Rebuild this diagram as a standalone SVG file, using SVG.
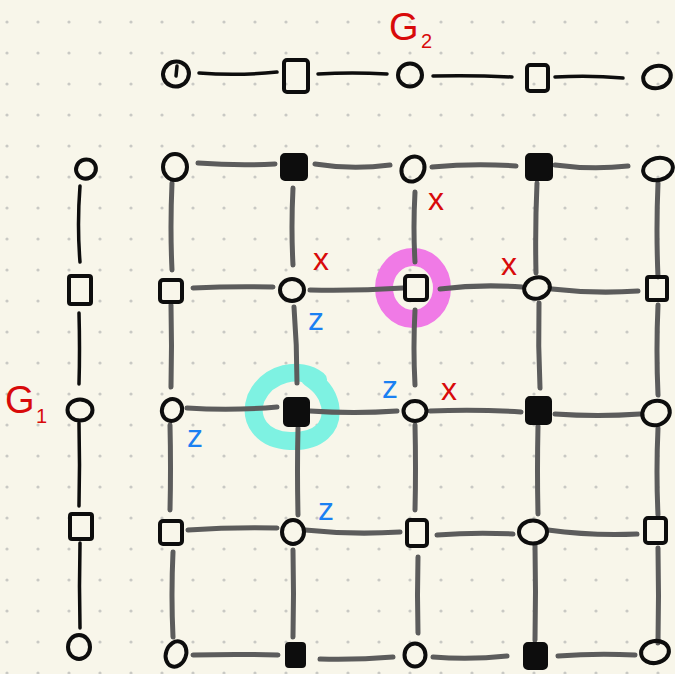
<svg xmlns="http://www.w3.org/2000/svg" width="675" height="674" viewBox="0 0 675 674">
<defs>
<pattern id="dots" x="0" y="0" width="31" height="31" patternUnits="userSpaceOnUse">
<circle cx="7" cy="22" r="1.6" fill="#c9c9c4"/>
</pattern>
</defs>
<style>
.c{fill:none;stroke:#0d0d0d;stroke-width:4}
.s{fill:none;stroke:#0d0d0d;stroke-width:4;stroke-linejoin:round}
.f{fill:#0d0d0d;stroke:#0d0d0d;stroke-width:4;stroke-linejoin:round}
.e{fill:none;stroke:#5c5c5c;stroke-width:5;stroke-linecap:round}
.b{fill:none;stroke:#0d0d0d;stroke-width:3.5;stroke-linecap:round}
.rx{fill:#d80a0a;font-family:"Liberation Sans",Arial,sans-serif;font-size:32px}
.bz{fill:#1a80f2;font-family:"Liberation Sans",Arial,sans-serif;font-size:32px}
.lbl{fill:#d80a0a;font-family:"Liberation Sans",Arial,sans-serif}
</style>
<rect width="675" height="674" fill="#f8f6ea"/>
<rect width="675" height="674" fill="url(#dots)"/>

<g id="highlights">
<ellipse cx="413" cy="288" rx="29" ry="31" fill="none" stroke="#f07ae6" stroke-width="18"/>
<path d="M318 380 C300 366 268 372 256 398 C248 420 262 440 290 441 C318 442 334 428 330 405 C327 392 320 385 310 378" fill="none" stroke="#7ef2e2" stroke-width="18" stroke-linecap="round"/>
</g>

<g id="connectors">
<!-- G2 chain -->
<path class="b" d="M199 73 Q238 76 277 72"/>
<path class="b" d="M318 74 Q352 72 387 74"/>
<path class="b" d="M433 76 Q472 75 512 77"/>
<path class="b" d="M555 77 Q590 75 623 78"/>
<!-- G1 chain -->
<path class="b" d="M80 186 Q77 225 80 262"/>
<path class="b" d="M79 313 Q80 350 79 384"/>
<path class="b" d="M79 423 Q80 465 79 506"/>
<path class="b" d="M80 543 Q79 586 80 628"/>
<!-- grid horizontals -->
<path class="e" d="M198 163 Q238 166 275 164"/>
<path class="e" d="M315 164 Q352 170 390 165"/>
<path class="e" d="M432 167 Q475 163 516 166"/>
<path class="e" d="M555 165 Q592 170 628 166"/>
<path class="e" d="M193 288 Q233 286 273 287"/>
<path class="e" d="M310 290 Q356 291 403 288"/>
<path class="e" d="M440 289 Q480 284 522 287"/>
<path class="e" d="M552 289 Q595 294 638 291"/>
<path class="e" d="M187 408 Q232 411 277 407"/>
<path class="e" d="M310 411 Q354 414 397 411"/>
<path class="e" d="M430 411 Q476 409 521 412"/>
<path class="e" d="M555 414 Q598 417 640 414"/>
<path class="e" d="M188 530 Q232 527 277 528"/>
<path class="e" d="M305 530 Q352 535 400 532"/>
<path class="e" d="M437 535 Q475 532 513 534"/>
<path class="e" d="M548 530 Q592 536 637 534"/>
<path class="e" d="M193 655 Q235 654 278 655"/>
<path class="e" d="M320 659 Q356 660 393 657"/>
<path class="e" d="M433 657 Q470 660 507 656"/>
<path class="e" d="M558 656 Q596 653 635 655"/>
<!-- grid verticals -->
<path class="e" d="M172 183 Q170 228 172 270"/>
<path class="e" d="M171 305 Q172 346 171 387"/>
<path class="e" d="M170 425 Q171 468 170 510"/>
<path class="e" d="M173 552 Q171 595 173 637"/>
<path class="e" d="M293 188 Q291 228 293 265"/>
<path class="e" d="M294 307 Q297 345 297 383"/>
<path class="e" d="M298 428 Q297 470 298 515"/>
<path class="e" d="M293 550 Q294 594 293 637"/>
<path class="e" d="M415 192 Q413 228 415 262"/>
<path class="e" d="M415 310 Q413 348 415 385"/>
<path class="e" d="M415 425 Q416 468 415 510"/>
<path class="e" d="M418 557 Q417 595 418 633"/>
<path class="e" d="M537 183 Q535 228 536 273"/>
<path class="e" d="M539 303 Q538 346 540 388"/>
<path class="e" d="M538 426 Q537 470 538 514"/>
<path class="e" d="M535 545 Q536 592 535 640"/>
<path class="e" d="M658 183 Q656 230 658 277"/>
<path class="e" d="M658 305 Q656 350 658 395"/>
<path class="e" d="M658 428 Q656 472 658 515"/>
<path class="e" d="M658 548 Q659 596 658 643"/>
</g>

<!-- G2 nodes -->
<g id="g2-n1"><ellipse class="c" cx="176" cy="74" rx="13" ry="12.5" transform="rotate(-20 176 74)"/><path class="b" d="M177 66 L176 76" stroke-width="3"/></g>
<g id="g2-n2"><rect class="s" x="284" y="60" width="24" height="32" rx="3"/></g>
<g id="g2-n3"><ellipse class="c" cx="410" cy="75" rx="12" ry="11.5"/></g>
<g id="g2-n4"><rect class="s" x="527" y="65" width="21" height="26" rx="3"/></g>
<g id="g2-n5"><ellipse class="c" cx="657" cy="77" rx="14" ry="11" transform="rotate(-15 657 77)"/></g>

<!-- G1 nodes -->
<g id="g1-n1"><ellipse class="c" cx="86" cy="169" rx="10" ry="9.5" transform="rotate(-25 86 169)"/></g>
<g id="g1-n2"><rect class="s" x="69" y="276" width="22" height="28" rx="2"/></g>
<g id="g1-n3"><ellipse class="c" cx="80" cy="410" rx="12.5" ry="10.5"/></g>
<g id="g1-n4"><rect class="s" x="70" y="514" width="22" height="25" rx="2"/></g>
<g id="g1-n5"><ellipse class="c" cx="79" cy="647" rx="11" ry="12"/></g>

<!-- grid nodes -->
<g id="n00"><ellipse class="c" cx="175" cy="167" rx="12" ry="13"/></g>
<g id="n01"><rect class="f" x="282" y="155" width="24" height="24" rx="3"/></g>
<g id="n02"><ellipse class="c" cx="413" cy="169" rx="11" ry="13" transform="rotate(30 413 169)"/></g>
<g id="n03"><rect class="f" x="527" y="155" width="24" height="24" rx="3"/></g>
<g id="n04"><ellipse class="c" cx="658" cy="169" rx="15" ry="11" transform="rotate(-12 658 169)"/></g>

<g id="n10"><rect class="s" x="160" y="280" width="22" height="22" rx="3"/></g>
<g id="n11"><ellipse class="c" cx="292" cy="290" rx="12" ry="11"/></g>
<g id="n12"><rect class="s" x="405" y="276" width="22" height="24" rx="3"/></g>
<g id="n13"><ellipse class="c" cx="537" cy="288" rx="13" ry="10.5" transform="rotate(-15 537 288)"/></g>
<g id="n14"><rect class="s" x="647" y="277" width="20" height="23" rx="2"/></g>

<g id="n20"><ellipse class="c" cx="172" cy="410" rx="10" ry="11" transform="rotate(20 172 410)"/></g>
<g id="n21"><rect class="f" x="285" y="399" width="23" height="26" rx="3"/></g>
<g id="n22"><ellipse class="c" cx="415" cy="411" rx="11.5" ry="10"/></g>
<g id="n23"><rect class="f" x="527" y="398" width="23" height="25" rx="3"/></g>
<g id="n24"><ellipse class="c" cx="656" cy="413" rx="14" ry="12" transform="rotate(-20 656 413)"/></g>

<g id="n30"><rect class="s" x="160" y="521" width="22" height="23" rx="3"/></g>
<g id="n31"><ellipse class="c" cx="293" cy="532" rx="11" ry="12"/></g>
<g id="n32"><rect class="s" x="407" y="520" width="20" height="26" rx="3"/></g>
<g id="n33"><ellipse class="c" cx="533" cy="532" rx="14" ry="11.5"/></g>
<g id="n34"><rect class="s" x="645" y="518" width="21" height="25" rx="3"/></g>

<g id="n40"><ellipse class="c" cx="176" cy="654" rx="10" ry="13" transform="rotate(20 176 654)"/></g>
<g id="n41"><rect class="f" x="287" y="644" width="17" height="22" rx="2"/></g>
<g id="n42"><ellipse class="c" cx="415" cy="655" rx="10.5" ry="11.5"/></g>
<g id="n43"><rect class="f" x="525" y="644" width="21" height="24" rx="3"/></g>
<g id="n44"><ellipse class="c" cx="655" cy="652" rx="14" ry="11" transform="rotate(-10 655 652)"/></g>

<g id="labels">
<text class="lbl" x="389" y="40" font-size="38">G</text>
<text class="lbl" x="421" y="48" font-size="20">2</text>
<text class="lbl" x="5" y="413" font-size="38">G</text>
<text class="lbl" x="36" y="423" font-size="20">1</text>
<text class="rx" x="313" y="270">x</text>
<text class="rx" x="428" y="210">x</text>
<text class="rx" x="501" y="275">x</text>
<text class="rx" x="441" y="400">x</text>
<text class="bz" x="308" y="330">z</text>
<text class="bz" x="382" y="398">z</text>
<text class="bz" x="187" y="447">z</text>
<text class="bz" x="318" y="520">z</text>
</g>
</svg>
